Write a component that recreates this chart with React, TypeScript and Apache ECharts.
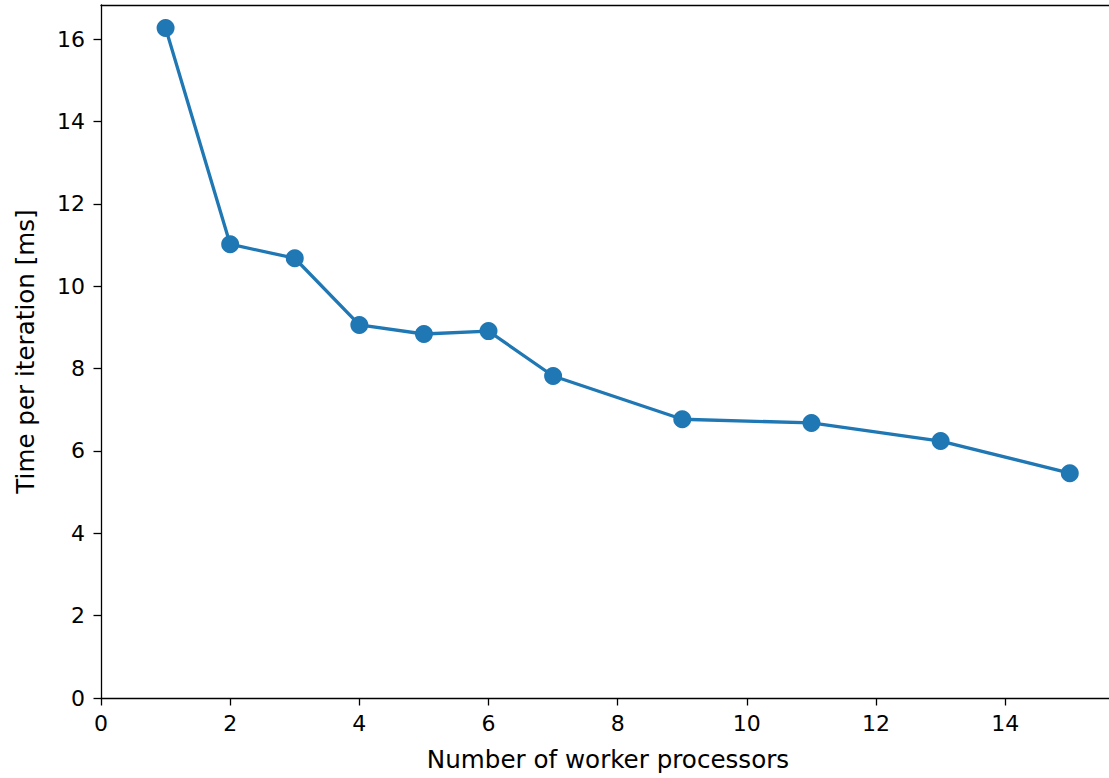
import React, { useEffect, useRef } from "react";
import * as echarts from "echarts";

const workers = [1, 2, 3, 4, 5, 6, 7, 9, 11, 13, 15];
const timeMs = [16.27, 11.02, 10.68, 9.06, 8.84, 8.91, 7.82, 6.77, 6.68, 6.24, 5.46];
const xTicks = [0, 2, 4, 6, 8, 10, 12, 14];
const yTicks = [0, 2, 4, 6, 8, 10, 12, 14, 16];

export default function App() {
  const ref = useRef<HTMLDivElement>(null);
  useEffect(() => {
    if (!ref.current) return;
    const chart = echarts.init(ref.current, undefined, { renderer: "svg" });
    const font = "DejaVu Sans";
    const lineStyle = { color: "#000", width: 1.3 };
    const axisCommon = {
      axisLine: { show: true, lineStyle },
      axisTick: { show: true, length: 7.5, inside: false, lineStyle },
      splitLine: { show: false },
      nameTextStyle: { fontFamily: font, fontSize: 24.6, color: "#000" },
    };
    const frameAxis = {
      type: "value",
      axisLine: { show: true, onZero: false, lineStyle },
      axisTick: { show: false },
      axisLabel: { show: false },
      splitLine: { show: false },
    };
    chart.setOption({
      animation: false,
      grid: {
        left: 101,
        top: 5,
        width: 1014,
        height: 693,
        show: false,
      },
      xAxis: [
        {
          type: "value",
          min: 0,
          max: 15.7,
          ...axisCommon,
          axisTick: { ...axisCommon.axisTick, customValues: xTicks },
          axisLabel: {
            customValues: xTicks,
            fontFamily: font,
            fontSize: 22,
            color: "#000",
            margin: 14,
          },
          name: "Number of worker processors",
          nameLocation: "middle",
          nameGap: 49,
        },
        { ...frameAxis, position: "top", min: 0, max: 15.7 },
      ],
      yAxis: [
        {
          type: "value",
          min: 0,
          max: 16.83,
          ...axisCommon,
          axisTick: { ...axisCommon.axisTick, customValues: yTicks },
          axisLabel: {
            customValues: yTicks,
            fontFamily: font,
            fontSize: 22,
            color: "#000",
            margin: 16,
          },
          name: "Time per iteration [ms]",
          nameLocation: "middle",
          nameGap: 63,
        },
        { ...frameAxis, position: "right", min: 0, max: 16.83 },
      ],
      series: [
        {
          type: "line",
          data: workers.map((w, i) => [w, timeMs[i]]),
          symbol: "circle",
          symbolSize: 18,
          showAllSymbol: true,
          lineStyle: { color: "#1f77b4", width: 3.3 },
          itemStyle: { color: "#1f77b4" },
          clip: false,
        },
      ],
    });
    return () => chart.dispose();
  }, []);
  return (
    <div
      style={{
        position: "fixed",
        left: 0,
        top: 0,
        width: 1109,
        height: 778,
        overflow: "hidden",
        background: "#fff",
      }}
    >
      <div ref={ref} style={{ width: 1130, height: 778 }} />
    </div>
  );
}
